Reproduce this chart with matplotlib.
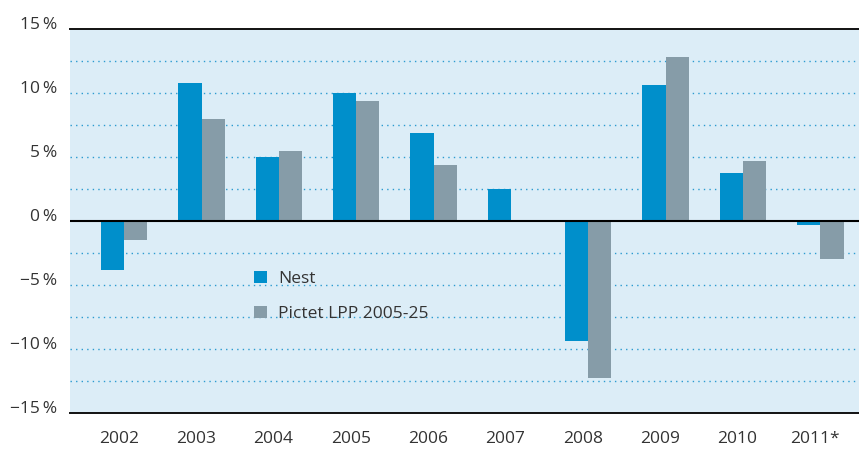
import numpy as np
import matplotlib
matplotlib.use("Agg")
import matplotlib.pyplot as plt
from matplotlib.patches import Patch

plt.rcParams['font.family'] = ['Open Sans', 'DejaVu Sans']

years = ["2002", "2003", "2004", "2005", "2006", "2007", "2008", "2009", "2010", "2011*"]
nest = [-3.8, 10.8, 5.0, 10.0, 6.9, 2.5, -9.4, 10.6, 3.75, -0.3]
pictet = [-1.5, 8.0, 5.5, 9.4, 4.4, 0.0, -12.3, 12.8, 4.7, -3.0]
yTicks = [15, 10, 5, 0, -5, -10, -15]
yTickLabels = ["15\u2009%", "10\u2009%", "5\u2009%", "0\u2009%", "\u22125\u2009%", "\u221210\u2009%", "\u221215\u2009%"]

nestColor = "#008fcb"
pictetColor = "#869ca8"
bgColor = "#dcedf7"
gridColor = "#2b9bd0"
textColor = "#333333"

fig = plt.figure(figsize=(8.59, 4.70), dpi=100)
ax = fig.add_axes([70/859, 57/470, 789/859, 384/470])
ax.set_facecolor(bgColor)

x = np.arange(len(years))
barWidth = 0.30
ax.bar(x - barWidth/2, nest, width=barWidth, color=nestColor, zorder=3)
ax.bar(x + barWidth/2, pictet, width=barWidth, color=pictetColor, zorder=3)

ax.set_xlim(-0.70, 9.50)
ax.set_ylim(-15, 15)

# dotted grid every 2.5 %
for g in np.arange(-12.5, 15, 2.5):
    if g == 0:
        continue
    ax.axhline(g, color=gridColor, linestyle=(0, (1, 3)), linewidth=1.0, zorder=1)
ax.axhline(0, color="black", linewidth=1.5, zorder=4)

for side in ["left", "right"]:
    ax.spines[side].set_visible(False)
for side in ["top", "bottom"]:
    ax.spines[side].set_color("#111111")
    ax.spines[side].set_linewidth(1.4)

ax.set_yticks(yTicks)
ax.set_yticklabels(yTickLabels, fontsize=12.5, color=textColor)
for lbl in ax.get_yticklabels():
    lbl.set_verticalalignment("baseline")
ax.set_xticks(x - 0.07)
ax.set_xticklabels(years, fontsize=12.5, color=textColor)
ax.tick_params(axis="both", length=0)
ax.tick_params(axis="y", pad=9)
ax.tick_params(axis="x", pad=13)

handles = [Patch(facecolor=nestColor, label="Nest"), Patch(facecolor=pictetColor, label="Pictet LPP 2005-25")]
ax.legend(handles=handles, loc="upper left", bbox_to_anchor=(0.214, 0.41), frameon=False,
          fontsize=12.5, handlelength=0.7, handleheight=0.7, handletextpad=0.65,
          labelspacing=1.05, labelcolor=textColor)

fig.savefig("out.png", dpi=100)
